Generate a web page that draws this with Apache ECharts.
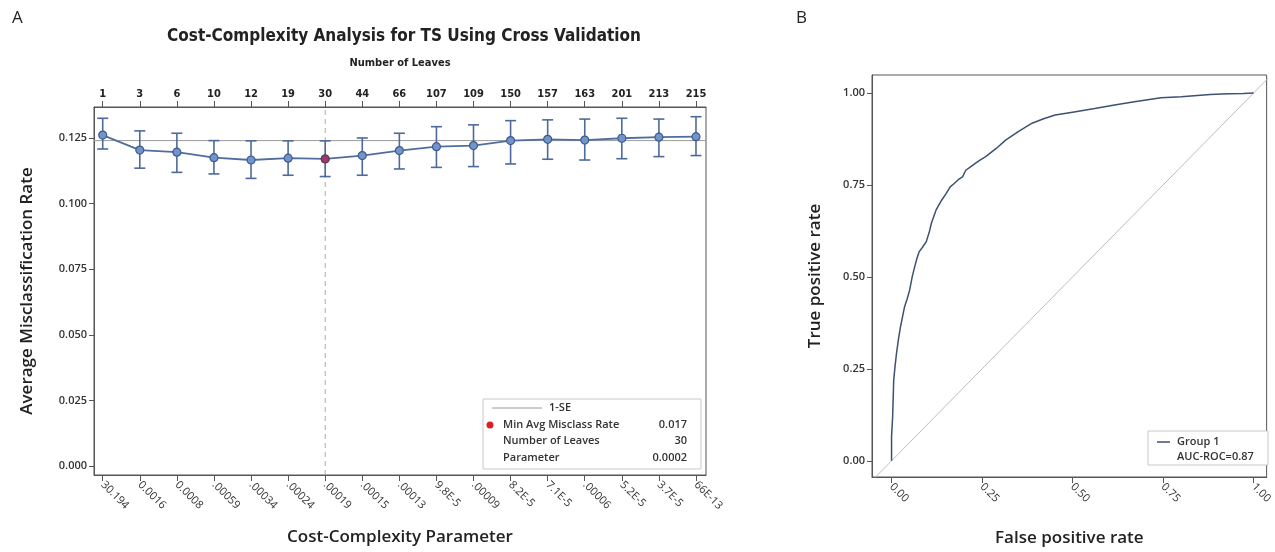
<!DOCTYPE html>
<html><head><meta charset="utf-8">
<script src="https://cdn.jsdelivr.net/npm/echarts@6/dist/echarts.min.js"></script>
<style>html,body{margin:0;padding:0;background:#fff}#c{width:1275px;height:552px}</style>
</head><body><div id="c"></div>
<script>
const paramLabels = ['30.194','0.0016','0.0008','.00059','.00034','.00024','.00019','.00015','.00013','9.8E-5','.00009','8.2E-5','7.1E-5','.00006','5.2E-5','3.7E-5','66E-13'];
const leafLabels = ['1','3','6','10','12','19','30','44','66','107','109','150','157','163','201','213','215'];
const avgRate = [0.1261,0.1204,0.1196,0.1175,0.1166,0.1173,0.1170,0.1183,0.1202,0.1217,0.1221,0.1240,0.1245,0.1242,0.1249,0.1253,0.1255];
const rateHigh = [0.1325,0.1277,0.1268,0.1240,0.1239,0.1239,0.1239,0.1250,0.1268,0.1293,0.1300,0.1316,0.1319,0.1322,0.1325,0.1322,0.1331];
const rateLow = [0.1208,0.1135,0.1119,0.1113,0.1096,0.1108,0.1103,0.1108,0.1132,0.1138,0.1141,0.1151,0.1169,0.1166,0.1171,0.1179,0.1183];
const oneSE = 0.124;
const minIndex = 6;
const yTicksA = [0, 0.025, 0.05, 0.075, 0.1, 0.125];
const rocFpr = [0,0,0.002,0.003,0.006,0.010,0.0137,0.019,0.0246,0.030,0.036,0.043,0.050,0.057,0.064,0.070,0.076,0.085,0.096,0.105,0.110,0.123,0.136,0.151,0.162,0.173,0.185,0.196,0.205,0.219,0.24,0.26,0.29,0.315,0.35,0.388,0.42,0.452,0.50,0.561,0.62,0.671,0.744,0.80,0.88,0.93,0.972,1];
const rocTpr = [0,0.065,0.07,0.12,0.22,0.26,0.292,0.33,0.364,0.39,0.419,0.44,0.464,0.50,0.528,0.55,0.568,0.58,0.596,0.625,0.646,0.682,0.705,0.727,0.745,0.754,0.765,0.772,0.79,0.80,0.815,0.827,0.85,0.872,0.895,0.918,0.93,0.940,0.948,0.958,0.968,0.976,0.987,0.990,0.996,0.998,0.999,1];
const rocTicks = [0, 0.25, 0.5, 0.75, 1];
const legendA = [['Min Avg Misclass Rate','0.017'],['Number of Leaves','30'],['Parameter','0.0002']];

const xMinA = -0.235, xMaxA = 16.27, yMinA = -0.0034, yMaxA = 0.1368;
const idx = avgRate.map((v,i)=>i);
const lineData = avgRate.map((v,i)=>[i,v]);
const errData = avgRate.map((v,i)=>[i,rateLow[i],rateHigh[i]]);
const rocData = rocFpr.map((f,i)=>[f,rocTpr[i]]);

const axisCol = '#555';
const lblFont = '"Open Sans", "Noto Sans", sans-serif';
const condFont = '"DejaVu Sans Condensed", "Liberation Sans Narrow", sans-serif';
const aLine = {show:true, onZero:false, lineStyle:{color:axisCol}};

const chart = echarts.init(document.getElementById('c'));
chart.setOption({
  animation:false,
  backgroundColor:'#fff',
  grid:[
    {left:94, top:107, width:612, height:368, show:true, borderColor:axisCol, borderWidth:1, containLabel:false},
    {left:872, top:75, width:398, height:402, show:true, borderColor:axisCol, borderWidth:1, containLabel:false}
  ],
  xAxis:[
    {type:'value', gridIndex:0, min:xMinA, max:xMaxA, position:'bottom',
     name:'Cost-Complexity Parameter', nameLocation:'middle', nameGap:54,
     nameTextStyle:{fontFamily:lblFont, fontSize:17, fontWeight:600, color:'#222'},
     axisLine:aLine,
     axisTick:{show:true, length:6, customValues:idx, lineStyle:{color:axisCol}},
     axisLabel:{customValues:idx, rotate:-45, margin:8, fontFamily:lblFont, fontSize:11, color:'#333', formatter:v=>paramLabels[Math.round(v)]},
     splitLine:{show:false}},
    {type:'value', gridIndex:0, min:xMinA, max:xMaxA, position:'top',
     name:'Number of Leaves', nameLocation:'middle', nameGap:38,
     nameTextStyle:{fontFamily:condFont, fontSize:11, fontWeight:'bold', color:'#222'},
     axisLine:aLine,
     axisTick:{show:true, length:6, customValues:idx, lineStyle:{color:axisCol}},
     axisLabel:{customValues:idx, margin:7, fontFamily:condFont, fontSize:11, fontWeight:'bold', color:'#222', formatter:v=>leafLabels[Math.round(v)]},
     splitLine:{show:false}},
    {type:'value', gridIndex:1, min:-0.054, max:1.036, position:'bottom',
     name:'False positive rate', nameLocation:'middle', nameGap:53,
     nameTextStyle:{fontFamily:lblFont, fontSize:17, fontWeight:600, color:'#222'},
     axisLine:aLine,
     axisTick:{show:true, length:6, customValues:rocTicks, lineStyle:{color:axisCol}},
     axisLabel:{customValues:rocTicks, rotate:-45, margin:8, fontFamily:lblFont, fontSize:11, color:'#333', formatter:v=>v.toFixed(2)},
     splitLine:{show:false}}
  ],
  yAxis:[
    {type:'value', gridIndex:0, min:yMinA, max:yMaxA,
     name:'Average Misclassification Rate', nameLocation:'middle', nameGap:58,
     nameTextStyle:{fontFamily:lblFont, fontSize:17, fontWeight:600, color:'#222'},
     axisLine:aLine,
     axisTick:{show:true, length:5, customValues:yTicksA, lineStyle:{color:axisCol}},
     axisLabel:{customValues:yTicksA, margin:7, fontFamily:lblFont, fontSize:11, fontWeight:600, color:'#333', formatter:v=>v.toFixed(3)},
     splitLine:{show:false}},
    {type:'value', gridIndex:1, min:-0.044, max:1.049,
     name:'True positive rate', nameLocation:'middle', nameGap:48,
     nameTextStyle:{fontFamily:lblFont, fontSize:17, fontWeight:600, color:'#222'},
     axisLine:aLine,
     axisTick:{show:true, length:5, customValues:rocTicks, lineStyle:{color:axisCol}},
     axisLabel:{customValues:rocTicks, margin:7, fontFamily:lblFont, fontSize:11, fontWeight:600, color:'#333', formatter:v=>v.toFixed(2)},
     splitLine:{show:false}}
  ],
  series:[
    {type:'line', xAxisIndex:0, yAxisIndex:0, data:[[xMinA, oneSE],[xMaxA, oneSE]], symbol:'none', z:1,
     lineStyle:{color:'#9a9a9a', width:1}},
    {type:'line', xAxisIndex:0, yAxisIndex:0, data:[[minIndex, yMinA],[minIndex, yMaxA]], symbol:'none', z:1,
     lineStyle:{color:'#aaaaaa', width:1, type:[5,4]}},
    {type:'custom', xAxisIndex:0, yAxisIndex:0, data:errData, encode:{x:0,y:[1,2]}, z:2,
     renderItem:(params, api)=>{
       const x=api.value(0), lo=api.value(1), hi=api.value(2);
       const a=api.coord([x,hi]), b=api.coord([x,lo]); const w=5.5;
       const st={stroke:'#4c6a9c', lineWidth:1.6};
       return {type:'group', children:[
         {type:'line', shape:{x1:a[0],y1:a[1],x2:b[0],y2:b[1]}, style:st},
         {type:'line', shape:{x1:a[0]-w,y1:a[1],x2:a[0]+w,y2:a[1]}, style:st},
         {type:'line', shape:{x1:b[0]-w,y1:b[1],x2:b[0]+w,y2:b[1]}, style:st}
       ]};
     }},
    {type:'line', xAxisIndex:0, yAxisIndex:0, data:lineData, z:3,
     symbol:'circle', symbolSize:8,
     lineStyle:{color:'#4f6d9f', width:1.8},
     itemStyle:{color:'#7393c9', borderColor:'#3e5c8e', borderWidth:1.2}},
    {type:'scatter', xAxisIndex:0, yAxisIndex:0, data:[[minIndex, avgRate[minIndex]]], z:4,
     symbol:'circle', symbolSize:8, itemStyle:{color:'#a3284f', borderColor:'#6d2c4a', borderWidth:1}},
    {type:'line', xAxisIndex:2, yAxisIndex:1, data:[[-0.1,-0.1],[1.1,1.1]], symbol:'none', clip:true,
     lineStyle:{color:'#bdbdbd', width:1}},
    {type:'line', xAxisIndex:2, yAxisIndex:1, data:rocData, symbol:'none', clip:true, z:3,
     lineStyle:{color:'#3d5170', width:1.5}}
  ],
  graphic:[
    {type:'text', x:12, y:10, style:{text:'A', fontFamily:lblFont, fontSize:17, fill:'#222'}},
    {type:'text', x:796, y:10, style:{text:'B', fontFamily:lblFont, fontSize:17, fill:'#222'}},
    {type:'text', x:404, y:37, style:{text:'Cost-Complexity Analysis for TS Using Cross Validation', fontFamily:condFont, fontSize:17, fontWeight:'bold', fill:'#222', align:'center', verticalAlign:'middle'}},
    {type:'group', x:483, y:399, children:[
      {type:'rect', shape:{x:0,y:0,width:218,height:70}, style:{fill:'#fff', stroke:'#c8c8c8', lineWidth:1}},
      {type:'line', shape:{x1:9,y1:9,x2:59,y2:9}, style:{stroke:'#9a9a9a', lineWidth:1}},
      {type:'text', x:66, y:9, style:{text:'1-SE', fontFamily:lblFont, fontSize:11, fontWeight:600, fill:'#333', verticalAlign:'middle'}},
      {type:'circle', shape:{cx:7,cy:26,r:3.5}, style:{fill:'#d62024'}},
      {type:'text', x:20, y:26, style:{text:legendA[0][0], fontFamily:lblFont, fontSize:11, fontWeight:600, fill:'#333', verticalAlign:'middle'}},
      {type:'text', x:204, y:26, style:{text:legendA[0][1], fontFamily:lblFont, fontSize:11, fontWeight:600, fill:'#333', align:'right', verticalAlign:'middle'}},
      {type:'text', x:20, y:42, style:{text:legendA[1][0], fontFamily:lblFont, fontSize:11, fontWeight:600, fill:'#333', verticalAlign:'middle'}},
      {type:'text', x:204, y:42, style:{text:legendA[1][1], fontFamily:lblFont, fontSize:11, fontWeight:600, fill:'#333', align:'right', verticalAlign:'middle'}},
      {type:'text', x:20, y:59, style:{text:legendA[2][0], fontFamily:lblFont, fontSize:11, fontWeight:600, fill:'#333', verticalAlign:'middle'}},
      {type:'text', x:204, y:59, style:{text:legendA[2][1], fontFamily:lblFont, fontSize:11, fontWeight:600, fill:'#333', align:'right', verticalAlign:'middle'}}
    ]},
    {type:'group', x:1148, y:431, children:[
      {type:'rect', shape:{x:0,y:0,width:120,height:34}, style:{fill:'#fff', stroke:'#c8c8c8', lineWidth:1}},
      {type:'line', shape:{x1:9,y1:11,x2:22,y2:11}, style:{stroke:'#3d5170', lineWidth:1.5}},
      {type:'text', x:29, y:11, style:{text:'Group 1', fontFamily:lblFont, fontSize:11, fontWeight:600, fill:'#333', verticalAlign:'middle'}},
      {type:'text', x:29, y:26, style:{text:'AUC-ROC=0.87', fontFamily:lblFont, fontSize:11, fontWeight:600, fill:'#333', verticalAlign:'middle'}}
    ]}
  ]
});
</script></body></html>
